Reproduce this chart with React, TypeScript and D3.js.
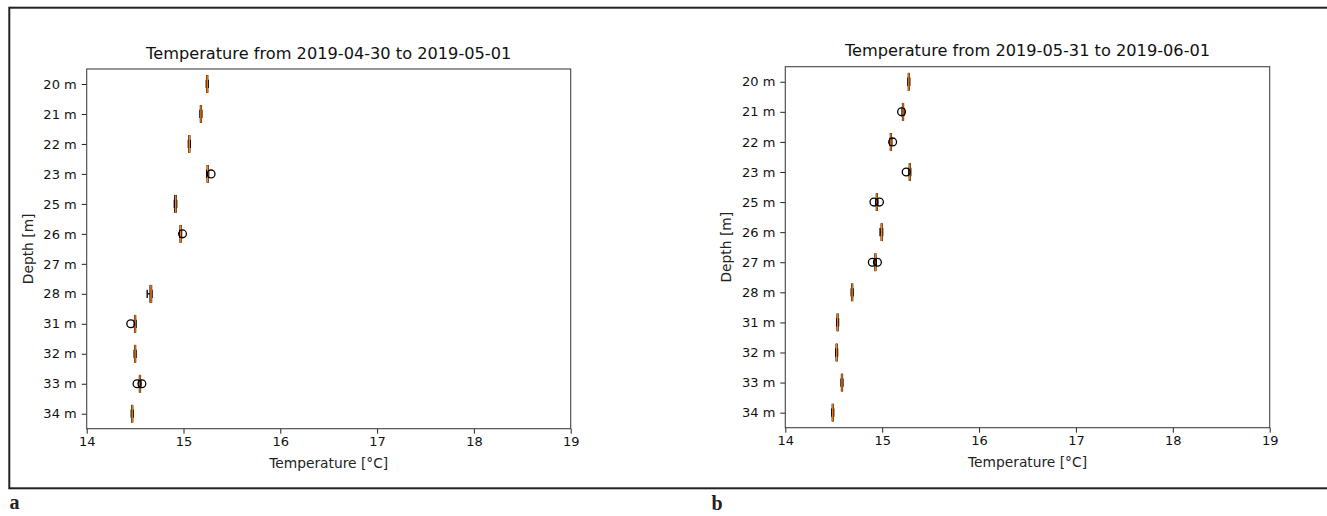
import React, { useEffect, useRef } from 'react';
import * as d3 from 'd3';

const depths = ['20 m', '21 m', '22 m', '23 m', '25 m', '26 m', '27 m', '28 m', '31 m', '32 m', '33 m', '34 m'];
const tempTicks = [14, 15, 16, 17, 18, 19];

// panel a: 2019-04-30 .. 2019-05-01
const titleA = 'Temperature from 2019-04-30 to 2019-05-01';
const medianA = [15.245, 15.18, 15.06, 15.25, 14.92, 14.97, null, 14.665, 14.5, 14.5, 14.55, 14.47];
const q1A = [15.24, 15.175, 15.055, 15.245, 14.91, 14.965, null, 14.655, 14.495, 14.495, 14.545, 14.465];
const q3A = [15.25, 15.185, 15.065, 15.255, 14.925, 14.975, null, 14.67, 14.505, 14.505, 14.555, 14.475];
const lowA = [15.235, 15.17, 15.05, 15.24, 14.905, 14.96, null, 14.625, 14.49, 14.49, 14.54, 14.46];
const highA = [15.255, 15.19, 15.07, 15.26, 14.93, 14.98, null, 14.675, 14.51, 14.51, 14.56, 14.48];
const outliersA = [[], [], [], [15.285], [], [14.99], [], [], [14.455], [], [14.52, 14.57], []];

// panel b: 2019-05-31 .. 2019-06-01
const titleB = 'Temperature from 2019-05-31 to 2019-06-01';
const medianB = [15.275, 15.215, 15.09, 15.285, 14.945, 14.995, 14.93, 14.69, 14.54, 14.53, 14.585, 14.49];
const q1B = [15.27, 15.21, 15.085, 15.28, 14.94, 14.99, 14.925, 14.685, 14.535, 14.525, 14.58, 14.485];
const q3B = [15.28, 15.22, 15.095, 15.29, 14.95, 15.0, 14.935, 14.695, 14.545, 14.535, 14.59, 14.495];
const lowB = [15.265, 15.205, 15.08, 15.275, 14.935, 14.978, 14.92, 14.68, 14.53, 14.52, 14.575, 14.48];
const highB = [15.285, 15.225, 15.1, 15.295, 14.955, 15.005, 14.94, 14.7, 14.55, 14.54, 14.595, 14.5];
const outliersB = [[], [15.2], [15.108], [15.248], [14.915, 14.972], [], [14.898, 14.951], [], [], [], [], []];

const font = '"DejaVu Sans", sans-serif';

interface Panel {
  title: string;
  median: (number | null)[];
  q1: (number | null)[];
  q3: (number | null)[];
  low: (number | null)[];
  high: (number | null)[];
  outliers: number[][];
  left: number;
  right: number;
  top: number;
  bottom: number;
  tag: string;
  tagX: number;
  tagY: number;
}

const panels: Panel[] = [
  { title: titleA, median: medianA, q1: q1A, q3: q3A, low: lowA, high: highA, outliers: outliersA,
    left: 86.7, right: 570.7, top: 69, bottom: 428.7, tag: 'a', tagX: 9.5, tagY: 509 },
  { title: titleB, median: medianB, q1: q1B, q3: q3B, low: lowB, high: highB, outliers: outliersB,
    left: 785.3, right: 1269.7, top: 66.7, bottom: 427.7, tag: 'b', tagX: 711.5, tagY: 510 },
];

const App: React.FC = () => {
  const svgRef = useRef<SVGSVGElement>(null);

  useEffect(() => {
    if (!svgRef.current) return;
    const svg = d3.select(svgRef.current);
    svg.selectAll('*').remove();

    // outer frame (runs off the right edge)
    svg.append('rect')
      .attr('x', 9.3).attr('y', 7.7)
      .attr('width', 1340).attr('height', 480.6)
      .attr('fill', 'none').attr('stroke', '#222').attr('stroke-width', 2);

    panels.forEach(p => {
      const x = d3.scaleLinear().domain([14, 19]).range([p.left, p.right]);
      const y = d3.scalePoint<string>().domain(depths).range([p.top, p.bottom]).padding(0.5);
      const half = (y.step() * 0.55) / 2;
      const g = svg.append('g');

      // boxes
      depths.forEach((d, i) => {
        const m = p.median[i];
        if (m == null) return;
        const cy = y(d)!;
        const q1 = p.q1[i]!, q3 = p.q3[i]!, lo = p.low[i]!, hi = p.high[i]!;
        const b = g.append('g').attr('stroke', '#000').attr('fill', 'none').attr('stroke-width', 1.3);
        b.append('line').attr('x1', x(lo)).attr('x2', x(q1)).attr('y1', cy).attr('y2', cy);
        b.append('line').attr('x1', x(q3)).attr('x2', x(hi)).attr('y1', cy).attr('y2', cy);
        [lo, hi].forEach(v => {
          b.append('line').attr('x1', x(v)).attr('x2', x(v))
            .attr('y1', cy - half / 2).attr('y2', cy + half / 2);
        });
        b.append('rect').attr('x', x(q1)).attr('width', Math.max(x(q3) - x(q1), 0.5))
          .attr('y', cy - half).attr('height', half * 2);
        g.append('line').attr('x1', x(m)).attr('x2', x(m))
          .attr('y1', cy - half - 0.5).attr('y2', cy + half + 0.5)
          .attr('stroke', '#ff7f0e').attr('stroke-width', 1.4);
        p.outliers[i].forEach(v => {
          g.append('circle').attr('cx', x(v)).attr('cy', cy).attr('r', 3.9)
            .attr('fill', 'none').attr('stroke', '#000').attr('stroke-width', 1.3);
        });
      });

      // axes
      const xa = g.append('g').attr('transform', `translate(0,${p.bottom})`)
        .call(d3.axisBottom(x).tickValues(tempTicks).tickFormat(d3.format('d')).tickSize(5).tickPadding(3.5));
      const ya = g.append('g').attr('transform', `translate(${p.left},0)`)
        .call(d3.axisLeft(y).tickSize(5).tickPadding(5));
      [xa, ya].forEach(a => {
        a.select('.domain').remove();
        a.selectAll('line').attr('stroke', '#222');
        a.selectAll('text').attr('font-family', font).attr('font-size', 13).attr('fill', '#111');
      });

      g.append('rect')
        .attr('x', p.left).attr('y', p.top)
        .attr('width', p.right - p.left).attr('height', p.bottom - p.top)
        .attr('fill', 'none').attr('stroke', '#444').attr('stroke-width', 1.1);

      const cx = (p.left + p.right) / 2;
      g.append('text').attr('x', cx).attr('y', p.top - 16).attr('dy', '0.35em')
        .attr('text-anchor', 'middle').attr('font-family', font).attr('font-size', 16.2)
        .attr('fill', '#111').text(p.title);
      g.append('text').attr('x', cx).attr('y', p.bottom + 34).attr('dy', '0.35em')
        .attr('text-anchor', 'middle').attr('font-family', font).attr('font-size', 13.8)
        .attr('fill', '#222').text('Temperature [°C]');
      g.append('text')
        .attr('transform', `translate(${p.left - 59},${(p.top + p.bottom) / 2}) rotate(-90)`)
        .attr('dy', '0.35em').attr('text-anchor', 'middle')
        .attr('font-family', font).attr('font-size', 13.8).attr('fill', '#222').text('Depth [m]');

      svg.append('text').attr('x', p.tagX).attr('y', p.tagY)
        .attr('font-family', '"Liberation Serif", serif').attr('font-weight', 'bold')
        .attr('font-size', 20).attr('fill', '#222').text(p.tag);
    });
  }, []);

  return (
    <svg
      ref={svgRef}
      width={1327}
      height={516}
      style={{ position: 'absolute', left: 0, top: 0, background: '#fff' }}
    />
  );
};

export default App;
